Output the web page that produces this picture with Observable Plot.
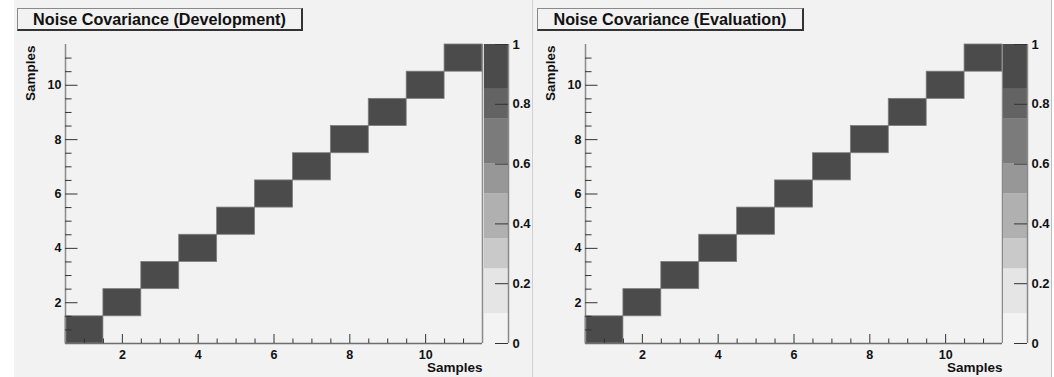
<!DOCTYPE html>
<html>
<head>
<meta charset="utf-8">
<script src="https://cdn.jsdelivr.net/npm/d3@7"></script>
<script src="https://cdn.jsdelivr.net/npm/@observablehq/plot@0.6"></script>
<style>
  body { margin: 0; background: #ffffff; font-family: "Liberation Sans", Arial, sans-serif; }
  #root { position: relative; width: 1054px; height: 377px; overflow: hidden; background: #ffffff; }
  .pad { position: absolute; top: 0; height: 377px; background: #f2f2f2; box-sizing: border-box; }
  .title { position: absolute; top: 8px; height: 23px; box-sizing: border-box;
           border-left: 1px solid #8a8a8a; border-top: 1px solid #8a8a8a;
           border-right: 2px solid #333; border-bottom: 2px solid #333;
           background: #f2f2f2; font-weight: bold; font-size: 16.2px; line-height: 20px;
           text-align: center; color: #111; white-space: nowrap; }
  .layer { position: absolute; top: 0; }
</style>
</head>
<body>
<div id="root"></div>
<script>
// ---------------- data ----------------
const samples = [1, 2, 3, 4, 5, 6, 7, 8, 9, 10, 11];

const devCov = [
  [1,0,0,0,0,0,0,0,0,0,0],
  [0,1,0,0,0,0,0,0,0,0,0],
  [0,0,1,0,0,0,0,0,0,0,0],
  [0,0,0,1,0,0,0,0,0,0,0],
  [0,0,0,0,1,0,0,0,0,0,0],
  [0,0,0,0,0,1,0,0,0,0,0],
  [0,0,0,0,0,0,1,0,0,0,0],
  [0,0,0,0,0,0,0,1,0,0,0],
  [0,0,0,0,0,0,0,0,1,0,0],
  [0,0,0,0,0,0,0,0,0,1,0],
  [0,0,0,0,0,0,0,0,0,0,1]
];

const evalCov = [
  [1,0,0,0,0,0,0,0,0,0,0],
  [0,1,0,0,0,0,0,0,0,0,0],
  [0,0,1,0,0,0,0,0,0,0,0],
  [0,0,0,1,0,0,0,0,0,0,0],
  [0,0,0,0,1,0,0,0,0,0,0],
  [0,0,0,0,0,1,0,0,0,0,0],
  [0,0,0,0,0,0,1,0,0,0,0],
  [0,0,0,0,0,0,0,1,0,0,0],
  [0,0,0,0,0,0,0,0,1,0,0],
  [0,0,0,0,0,0,0,0,0,1,0],
  [0,0,0,0,0,0,0,0,0,0,1]
];

const titles = ["Noise Covariance (Development)", "Noise Covariance (Evaluation)"];
const axisTitle = "Samples";

const axisDomain = [0.5, 11.5];
const majorTicks = [2, 4, 6, 8, 10];
const minorTicks = [1, 1.5, 2.5, 3, 3.5, 4.5, 5, 5.5, 6.5, 7, 7.5, 8.5, 9, 9.5, 10.5, 11];

const paletteLevels = [0, 0.1, 0.25, 0.35, 0.5, 0.6, 0.75, 0.85, 1];
const paletteColors = ["#f3f3f3", "#e5e5e5", "#c9c9c9", "#b0b0b0", "#979797", "#7b7b7b", "#636363", "#4b4b4b"];
const paletteTicks = [0, 0.2, 0.4, 0.6, 0.8, 1];

// ---------------- layout ----------------
const FONT = "'Liberation Sans', Arial, Helvetica, sans-serif";
const H = 377;
const PLOT_L = 65, PLOT_R = 482, PLOT_T = 44, PLOT_B = 343;
const innerW = PLOT_R - PLOT_L, innerH = PLOT_B - PLOT_T;
const OFFSET = 520;
const PANEL_W = 500;
const PAL_X0 = 470, PAL_L = 484, PAL_R = 508, PAL_W = 62;

const root = document.getElementById("root");
function addDiv(cls, style, text) {
  const d = document.createElement("div");
  d.className = cls;
  Object.assign(d.style, style);
  if (text) d.textContent = text;
  root.appendChild(d);
  return d;
}

// pads
addDiv("pad", {left: "14px", width: "519px", borderRight: "1px solid #cfcfcf"});
addDiv("pad", {left: "533px", width: "519px", borderRight: "1px solid #bdbdbd"});

const matrices = [devCov, evalCov];

matrices.forEach((matrix, p) => {
  const ox = p * OFFSET;
  const cells = [];
  matrix.forEach((row, i) => row.forEach((v, j) => {
    if (v > 0) cells.push({x: samples[j], y: samples[i], v});
  }));

  const chart = Plot.plot({
    width: PANEL_W, height: H,
    marginLeft: PLOT_L, marginRight: PANEL_W - PLOT_R, marginTop: PLOT_T, marginBottom: H - PLOT_B,
    style: {background: "transparent", fontFamily: FONT, fontWeight: "bold", color: "#111", overflow: "visible"},
    x: {domain: axisDomain, axis: null},
    y: {domain: axisDomain, axis: null},
    color: {type: "threshold", domain: paletteLevels.slice(1, -1), range: paletteColors},
    marks: [
      Plot.rect(cells, {
        x1: d => d.x - 0.5, x2: d => d.x + 0.5,
        y1: d => d.y - 0.5, y2: d => d.y + 0.5,
        fill: "v", stroke: "#7d7d7d", strokeWidth: 0.8
      }),
      // frame / axis lines
      Plot.ruleX([axisDomain[0]], {x: d => d, stroke: "#8a8a8a", strokeWidth: 1.5}),
      Plot.ruleX([axisDomain[1]], {x: d => d, stroke: "#8a8a8a", strokeWidth: 1.5}),
      Plot.ruleY([axisDomain[0]], {y: d => d, stroke: "#6e6e6e", strokeWidth: 1.5}),
      // x ticks (inside)
      Plot.ruleX(majorTicks, {x: d => d, insetTop: innerH - 9, stroke: "#333", strokeWidth: 1}),
      Plot.ruleX(minorTicks, {x: d => d, insetTop: innerH - 4.5, stroke: "#333", strokeWidth: 1}),
      // y ticks (inside)
      Plot.ruleY(majorTicks, {y: d => d, insetRight: innerW - 12.5, stroke: "#333", strokeWidth: 1}),
      Plot.ruleY(minorTicks, {y: d => d, insetRight: innerW - 6.5, stroke: "#333", strokeWidth: 1}),
      // tick labels
      Plot.text(majorTicks, {x: d => d, frameAnchor: "bottom", dy: 11, lineAnchor: "middle",
        text: d => String(d), fontSize: 12.5, fontWeight: "bold", fill: "#111"}),
      Plot.text(majorTicks, {y: d => d, frameAnchor: "left", textAnchor: "end", dx: -4,
        text: d => String(d), fontSize: 12.5, fontWeight: "bold", fill: "#111"}),
      // axis titles
      Plot.text([axisTitle], {frameAnchor: "bottom-right", textAnchor: "end", lineAnchor: "middle", dy: 24,
        text: d => d, fontSize: 13.5, fontWeight: "bold", fill: "#111"}),
      Plot.text([axisTitle], {frameAnchor: "top-left", rotate: -90, textAnchor: "end", lineAnchor: "middle",
        dx: -35, dy: 1, text: d => d, fontSize: 13.5, fontWeight: "bold", fill: "#111"})
    ]
  });
  chart.classList.add("layer");
  chart.style.left = ox + "px";
  chart.style.position = "absolute";
  root.appendChild(chart);

  // palette
  const bands = paletteColors.map((c, k) => ({lo: paletteLevels[k], hi: paletteLevels[k + 1], color: c}));
  const pal = Plot.plot({
    width: PAL_W, height: H,
    marginLeft: PAL_L - PAL_X0, marginRight: PAL_W - (PAL_R - PAL_X0), marginTop: PLOT_T, marginBottom: H - PLOT_B,
    style: {background: "transparent", fontFamily: FONT, fontWeight: "bold", color: "#111", overflow: "visible"},
    x: {domain: [0, 1], axis: null},
    y: {domain: [0, 1], axis: null},
    marks: [
      Plot.rect(bands, {y1: "lo", y2: "hi", fill: "color"}),
      Plot.ruleX([1], {x: d => d, stroke: "#8a8a8a", strokeWidth: 1.5}),
      Plot.ruleY(paletteTicks, {y: d => d, insetLeft: (PAL_R - PAL_L) - 13, stroke: "#333", strokeWidth: 1}),
      Plot.text(paletteTicks, {y: d => d, frameAnchor: "right", textAnchor: "start", dx: 4,
        text: d => String(d), fontSize: 13, fontWeight: "bold", fill: "#111"})
    ]
  });
  pal.classList.add("layer");
  pal.style.left = (ox + PAL_X0 - (p ? 1 : 0)) + "px";
  pal.style.position = "absolute";
  root.appendChild(pal);

  // title box
  addDiv("title", {left: (17 + ox) + "px", width: (p ? 267 : 286) + "px"}, titles[p]);
});
</script>
</body>
</html>
